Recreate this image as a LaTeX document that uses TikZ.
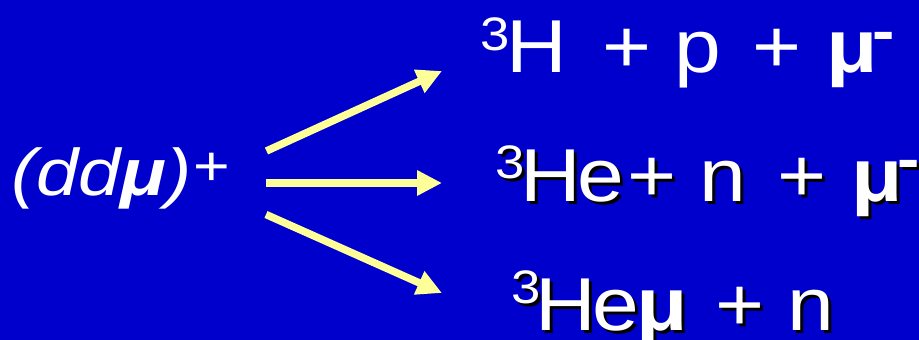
\documentclass[tikz,border=0pt]{standalone}
\usepackage{fontspec}
\setmainfont{Liberation Sans}
\usetikzlibrary{arrows.meta}
\definecolor{bg}{HTML}{0000CC}
\definecolor{arr}{HTML}{FFFF99}
\newcommand\sx[1]{\scalebox{1.12}[1]{#1}}
\newcommand\shd[1]{\sx{\rlap{\kern2.7pt\raisebox{-3pt}{\color{black}#1}}#1}}
\begin{document}
\begin{tikzpicture}[x=1pt,y=-1pt,
  txt/.style={inner sep=0pt, anchor=base west, text=white, font=\fontsize{75}{90}\selectfont},
  supr/.style={txt, font=\fontsize{47}{56}\selectfont},
  mu/.style={txt, font=\fontsize{75}{90}\selectfont\bfseries},
  minus/.style={txt, font=\fontsize{60}{72}\selectfont\bfseries},
  arrowline/.style={draw=arr, line width=7.5pt, -{Triangle[length=25pt,width=24pt]}}]
\fill[bg] (0,0) rectangle (919,340);
\useasboundingbox (0,0) rectangle (919,340);
% reactant
\node[txt, font=\fontsize{66}{80}\selectfont\itshape] (ddmu) at (11,195) {\scalebox{1.15}[1]{(dd{\bfseries μ})}};
\node[txt, font=\fontsize{56}{70}\selectfont] (plus0) at (193,185) {\sx{+}};
% arrows
\coordinate (s1) at (266.5,151); \coordinate (e1) at (442,71);
\coordinate (s2) at (266,183);   \coordinate (e2) at (442,183);
\coordinate (s3) at (266,214.5); \coordinate (e3) at (442,293);
\draw[arrowline] (s1) -- (e1);
\draw[arrowline] (s2) -- (e2);
\draw[arrowline] (s3) -- (e3);
% line 1
\node[supr] (a3) at (480,50) {\sx{3}};
\node[txt] (aH) at (506,72) {\sx{H}};
\node[txt] (ap1) at (602,72) {\sx{+}};
\node[txt] (ap) at (674,72) {\sx{p}};
\node[txt] (ap2) at (752,72) {\sx{+}};
\node[mu] (amu) at (826,72) {\sx{μ}};
\node[minus] (am) at (872.5,51) {\sx{-}};
% line 2
\node[supr] (b3) at (495,178) {\shd{3}};
\node[txt] (bHe) at (520,201) {\shd{H}};
\node[txt] (be) at (577,201) {\shd{e}};
\node[txt] (bp1) at (627,201) {\shd{+}};
\node[txt] (bn) at (699,201) {\shd{n}};
\node[txt] (bp2) at (777,201) {\shd{+}};
\node[mu] (bmu) at (851,201) {\shd{μ}};
\node[minus] (bm) at (897,179) {\shd{-}};
% line 3
\node[supr] (c3) at (511,303) {\shd{3}};
\node[txt] (cH) at (535,330) {\shd{H}};
\node[txt] (ce) at (592,330) {\shd{e}};
\node[mu] (cmu) at (636,330) {\shd{μ}};
\node[txt] (cp) at (715,330) {\shd{+}};
\node[txt] (cn) at (787,330) {\shd{n}};
\end{tikzpicture}
\end{document}
